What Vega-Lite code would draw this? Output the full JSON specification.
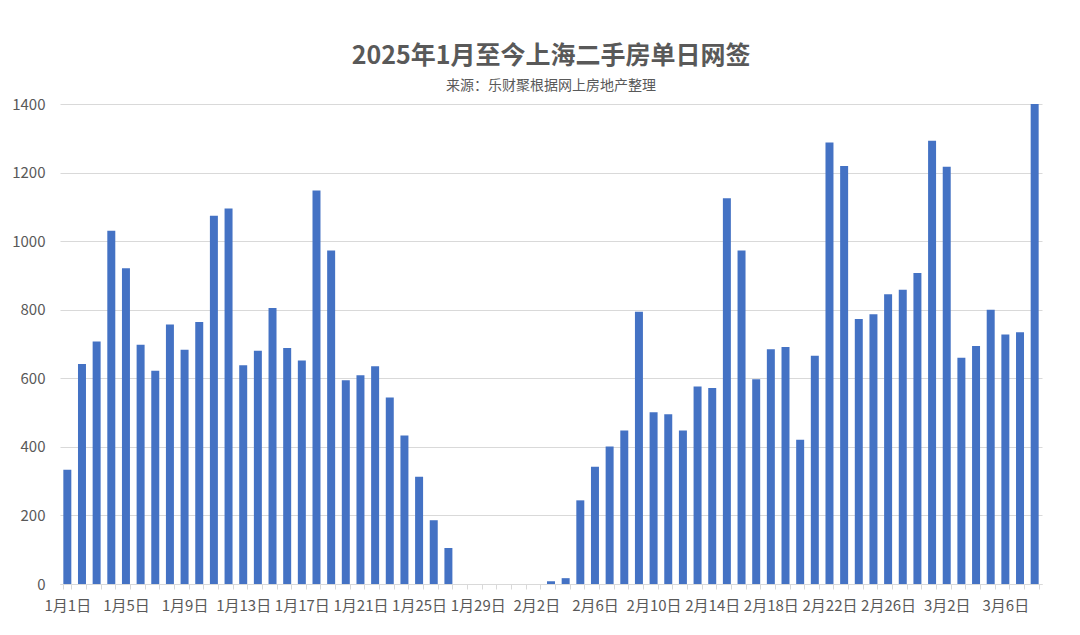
{
  "$schema": "https://vega.github.io/schema/vega-lite/v6.json",
  "width": 982,
  "height": 480,
  "autosize": {"type": "none"},
  "padding": {"left": 60, "top": 104, "right": 38, "bottom": 51},
  "background": "white",
  "title": {
    "text": "2025年1月至今上海二手房单日网签",
    "subtitle": "来源：乐财聚根据网上房地产整理",
    "anchor": "middle",
    "font": "Noto Sans CJK SC",
    "fontSize": 25,
    "fontWeight": "bold",
    "color": "#595959",
    "subtitleFont": "Noto Sans CJK SC",
    "subtitleFontSize": 14,
    "subtitleColor": "#595959",
    "subtitlePadding": 10,
    "offset": 4
  },
  "data": {
    "values": [
      {"date": "1月1日", "count": 333},
      {"date": "1月2日", "count": 642},
      {"date": "1月3日", "count": 707},
      {"date": "1月4日", "count": 1030},
      {"date": "1月5日", "count": 921},
      {"date": "1月6日", "count": 698},
      {"date": "1月7日", "count": 622},
      {"date": "1月8日", "count": 757},
      {"date": "1月9日", "count": 683},
      {"date": "1月10日", "count": 764},
      {"date": "1月11日", "count": 1074},
      {"date": "1月12日", "count": 1095},
      {"date": "1月13日", "count": 638},
      {"date": "1月14日", "count": 680},
      {"date": "1月15日", "count": 805},
      {"date": "1月16日", "count": 688},
      {"date": "1月17日", "count": 652},
      {"date": "1月18日", "count": 1148},
      {"date": "1月19日", "count": 973},
      {"date": "1月20日", "count": 594},
      {"date": "1月21日", "count": 609},
      {"date": "1月22日", "count": 635},
      {"date": "1月23日", "count": 544},
      {"date": "1月24日", "count": 433},
      {"date": "1月25日", "count": 313},
      {"date": "1月26日", "count": 186},
      {"date": "1月27日", "count": 105},
      {"date": "1月28日", "count": 0},
      {"date": "1月29日", "count": 0},
      {"date": "1月30日", "count": 0},
      {"date": "1月31日", "count": 0},
      {"date": "2月1日", "count": 0},
      {"date": "2月2日", "count": 0},
      {"date": "2月3日", "count": 8},
      {"date": "2月4日", "count": 17},
      {"date": "2月5日", "count": 244},
      {"date": "2月6日", "count": 342},
      {"date": "2月7日", "count": 401},
      {"date": "2月8日", "count": 448},
      {"date": "2月9日", "count": 794},
      {"date": "2月10日", "count": 501},
      {"date": "2月11日", "count": 495},
      {"date": "2月12日", "count": 448},
      {"date": "2月13日", "count": 576},
      {"date": "2月14日", "count": 572},
      {"date": "2月15日", "count": 1125},
      {"date": "2月16日", "count": 973},
      {"date": "2月17日", "count": 597},
      {"date": "2月18日", "count": 685},
      {"date": "2月19日", "count": 691},
      {"date": "2月20日", "count": 421},
      {"date": "2月21日", "count": 666},
      {"date": "2月22日", "count": 1288},
      {"date": "2月23日", "count": 1219},
      {"date": "2月24日", "count": 773},
      {"date": "2月25日", "count": 787},
      {"date": "2月26日", "count": 845},
      {"date": "2月27日", "count": 858},
      {"date": "2月28日", "count": 907},
      {"date": "3月1日", "count": 1293},
      {"date": "3月2日", "count": 1217},
      {"date": "3月3日", "count": 660},
      {"date": "3月4日", "count": 694},
      {"date": "3月5日", "count": 800},
      {"date": "3月6日", "count": 728},
      {"date": "3月7日", "count": 734},
      {"date": "3月8日", "count": 1400}
    ]
  },
  "mark": {"type": "bar", "color": "#4472C4"},
  "encoding": {
    "x": {
      "field": "date",
      "type": "ordinal",
      "sort": null,
      "scale": {"paddingInner": 0.455, "paddingOuter": 0.2275},
      "axis": {
        "title": null,
        "labelAngle": 0,
        "labelFont": "Noto Sans CJK SC",
        "labelFontSize": 15,
        "labelColor": "#595959",
        "labelPadding": 9,
        "labelOverlap": false,
        "labelExpr": "indexof(['1月1日','1月5日','1月9日','1月13日','1月17日','1月21日','1月25日','1月29日','2月2日','2月6日','2月10日','2月14日','2月18日','2月22日','2月26日','3月2日','3月6日'], datum.value) >= 0 ? datum.value : ''",
        "tickBand": "extent",
        "tickColor": "#d9d9d9",
        "tickSize": 5,
        "domainColor": "#d9d9d9",
        "grid": false
      }
    },
    "y": {
      "field": "count",
      "type": "quantitative",
      "scale": {"domain": [0, 1400], "nice": false},
      "axis": {
        "title": null,
        "values": [0, 200, 400, 600, 800, 1000, 1200, 1400],
        "format": "d",
        "labelFont": "Noto Sans CJK SC",
        "labelFontSize": 15,
        "labelColor": "#595959",
        "labelPadding": 15,
        "ticks": false,
        "domain": false,
        "gridColor": "#d9d9d9",
        "gridWidth": 1
      }
    }
  },
  "config": {
    "view": {"stroke": null}
  }
}
